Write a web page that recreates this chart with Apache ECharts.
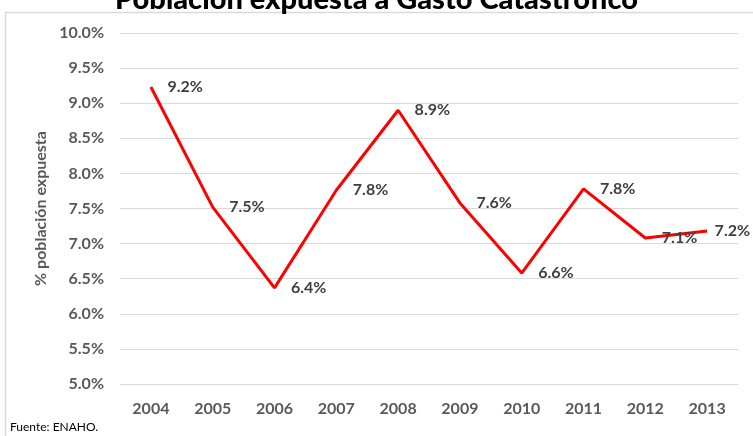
<!DOCTYPE html>
<html><head><meta charset="utf-8">
<script src="https://cdn.jsdelivr.net/npm/echarts@6/dist/echarts.min.js"></script>
<style>html,body{margin:0;padding:0;background:#fff}#c{width:753px;height:436px}</style>
</head><body><div id="c"></div>
<script>
const years = ['2004','2005','2006','2007','2008','2009','2010','2011','2012','2013'];
const values = [9.23, 7.52, 6.37, 7.76, 8.90, 7.58, 6.58, 7.78, 7.08, 7.18];
const labels = ['9.2%','7.5%','6.4%','7.8%','8.9%','7.6%','6.6%','7.8%','7.1%','7.2%'];
const titleText = 'Población expuesta a Gasto Catastrófico';
const axisName = '% población expuesta';
const sourceText = 'Fuente: ENAHO.';
const FONT = 'Lato, "Open Sans", sans-serif';
const chart = echarts.init(document.getElementById('c'));
const seriesData = values.map((v, i) => i === values.length - 1
  ? { value: v, label: { distance: 7 } } : v);
chart.setOption({
  animation: false,
  backgroundColor: '#fff',
  title: { text: titleText, left: 'center', top: -20,
    textStyle: { fontFamily: FONT, fontSize: 29, fontWeight: 900, color: '#000' } },
  graphic: [
    { type: 'rect', shape: { x: 5.5, y: 12.5, width: 800, height: 500 }, style: { fill: 'none', stroke: '#d9d9d9', lineWidth: 1.5 }, z: -1 },
    { type: 'text', left: 10, top: 421, style: { text: sourceText, font: '12px ' + FONT, fill: '#000' } }
  ],
  grid: { left: 120, right: 15, top: 33, bottom: 52, containLabel: false },
  xAxis: { type: 'category', data: years, boundaryGap: true,
    axisLine: { show: false }, axisTick: { show: false },
    axisLabel: { margin: 17, color: '#595959', fontFamily: FONT, fontSize: 16, fontWeight: 'bold' } },
  yAxis: { type: 'value', min: 5, max: 10, interval: 0.5,
    name: axisName, nameLocation: 'middle', nameGap: 71, nameRotate: 90,
    nameTextStyle: { color: '#595959', fontFamily: FONT, fontSize: 16, fontWeight: 'bold' },
    axisLine: { show: false }, axisTick: { show: false },
    splitLine: { lineStyle: { color: '#d9d9d9', width: 1 } },
    axisLabel: { margin: 16, formatter: v => v.toFixed(1) + '%', color: '#595959', fontFamily: FONT, fontSize: 16, fontWeight: 'bold' } },
  series: [{ type: 'line', data: seriesData, symbol: 'circle', symbolSize: 1, showSymbol: true,
    itemStyle: { color: 'rgba(0,0,0,0)' },
    lineStyle: { color: '#ff0000', width: 3 },
    label: { show: true, position: 'right', distance: 16,
      formatter: p => labels[p.dataIndex],
      color: '#404040', fontFamily: FONT, fontSize: 16, fontWeight: 'bold' } }]
});
</script></body></html>
